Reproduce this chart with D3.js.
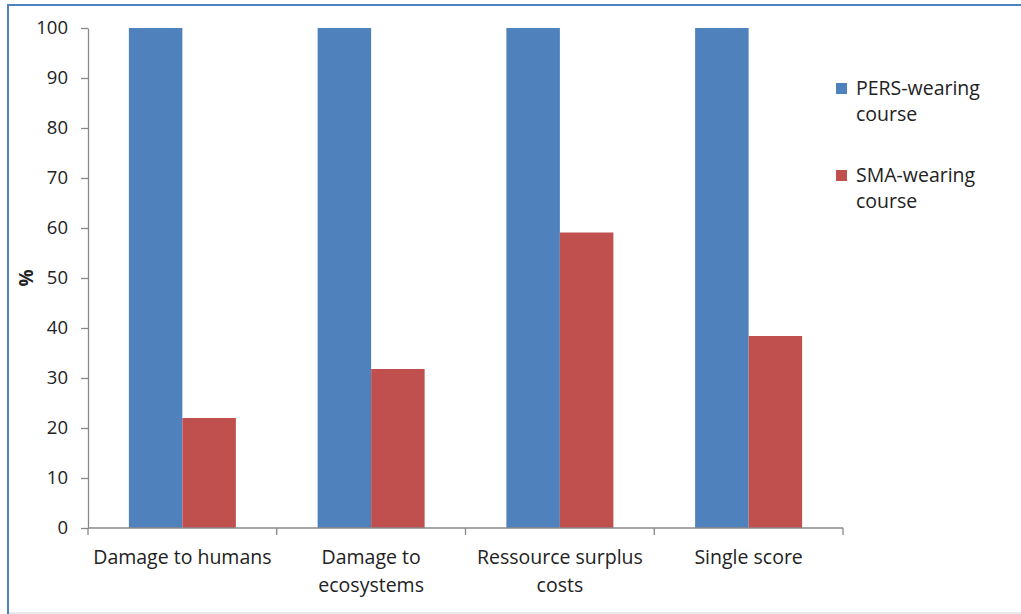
<!DOCTYPE html>
<html>
<head>
<meta charset="utf-8">
<script src="https://cdn.jsdelivr.net/npm/d3@7"></script>
<style>
  html, body { margin: 0; padding: 0; background: #fff; }
  svg { display: block; }
  text { font-family: "Open Sans", "Noto Sans", sans-serif; fill: #222; }
</style>
</head>
<body>
<svg id="chart" width="1021" height="614"></svg>
<script>
// Impact categories along the x axis
const categories = [
  ["Damage to humans"],
  ["Damage to", "ecosystems"],
  ["Ressource surplus", "costs"],
  ["Single score"]
];
// Relative impact (%) for each wearing course
const seriesNames = ["PERS-wearing course", "SMA-wearing course"];
const persValues = [100, 100, 100, 100];
const smaValues = [22, 31.8, 59.1, 38.4];
const seriesColors = ["#4F81BD", "#C0504D"];
const yTicks = [0, 10, 20, 30, 40, 50, 60, 70, 80, 90, 100];

const svg = d3.select("#chart");

// Outer frame
svg.append("rect").attr("x", 0).attr("y", 0).attr("width", 1021).attr("height", 614).attr("fill", "#fff");
svg.append("line").attr("x1", 8).attr("x2", 8).attr("y1", 4).attr("y2", 614)
  .attr("stroke", "#4F81BD").attr("stroke-width", 2);
svg.append("line").attr("x1", 7).attr("x2", 1021).attr("y1", 5).attr("y2", 5)
  .attr("stroke", "#4F81BD").attr("stroke-width", 2);
svg.append("line").attr("x1", 9).attr("x2", 1021).attr("y1", 613).attr("y2", 613)
  .attr("stroke", "#DDE3EA").attr("stroke-width", 1.5);

const plot = { left: 88, right: 843, top: 28, bottom: 528 };

const x = d3.scaleBand()
  .domain(d3.range(categories.length))
  .range([plot.left, plot.right])
  .paddingInner(0).paddingOuter(0);

const inner = d3.scaleBand()
  .domain([0, 1])
  .range([0, x.bandwidth()])
  .paddingOuter(0.764).paddingInner(0);

const y = d3.scaleLinear().domain([0, 100]).range([plot.bottom, plot.top]);

// Bars
const series = [persValues, smaValues];
series.forEach((vals, si) => {
  svg.append("g").selectAll("rect")
    .data(vals)
    .join("rect")
    .attr("x", (d, i) => x(i) + inner(si))
    .attr("y", d => y(d))
    .attr("width", inner.bandwidth())
    .attr("height", d => y(0) - y(d))
    .attr("fill", seriesColors[si]);
});

// Y axis
const yAxis = svg.append("g")
  .attr("transform", `translate(${plot.left},0)`)
  .call(d3.axisLeft(y).tickValues(yTicks).tickSize(7).tickPadding(13).tickSizeOuter(0));
yAxis.select(".domain").attr("stroke", "#888").attr("stroke-width", 1.3);
yAxis.selectAll(".tick line").attr("stroke", "#888").attr("stroke-width", 1.3);
yAxis.selectAll(".tick text")
  .style("font-family", "'Open Sans', sans-serif")
  .attr("font-size", 18.5).attr("fill", "#222");

// X axis
const xAxis = svg.append("g")
  .attr("transform", `translate(0,${plot.bottom})`);
xAxis.append("line")
  .attr("x1", plot.left).attr("x2", plot.right)
  .attr("y1", 0).attr("y2", 0)
  .attr("stroke", "#888").attr("stroke-width", 1.3);
const boundaries = d3.range(categories.length + 1).map(i => plot.left + i * x.step());
xAxis.selectAll("line.tick")
  .data(boundaries)
  .join("line")
  .attr("class", "tick")
  .attr("x1", d => d).attr("x2", d => d)
  .attr("y1", 0).attr("y2", 7)
  .attr("stroke", "#888").attr("stroke-width", 1.3);

// Category labels
const labels = svg.append("g");
categories.forEach((lines, i) => {
  const t = labels.append("text")
    .attr("x", x(i) + x.bandwidth() / 2)
    .attr("y", 564)
    .attr("text-anchor", "middle")
    .attr("font-size", 19.5);
  lines.forEach((ln, k) => {
    t.append("tspan")
      .attr("x", x(i) + x.bandwidth() / 2)
      .attr("dy", k === 0 ? 0 : 28)
      .text(ln);
  });
});

// Y axis title
svg.append("text")
  .attr("transform", "translate(33,278) rotate(-90)")
  .attr("text-anchor", "middle")
  .attr("font-size", 19)
  .attr("font-weight", "bold")
  .text("%");

// Legend
const legendItems = [
  { lines: ["PERS-wearing", "course"], y: 88 },
  { lines: ["SMA-wearing", "course"], y: 175 }
];
legendItems.forEach((item, si) => {
  svg.append("rect")
    .attr("x", 836).attr("y", item.y - 5)
    .attr("width", 11).attr("height", 11)
    .attr("fill", seriesColors[si]);
  const t = svg.append("text")
    .attr("x", 856).attr("y", item.y + 7)
    .attr("font-size", 19.5);
  item.lines.forEach((ln, k) => {
    t.append("tspan").attr("x", 856).attr("dy", k === 0 ? 0 : 26).text(ln);
  });
});
</script>
</body>
</html>
